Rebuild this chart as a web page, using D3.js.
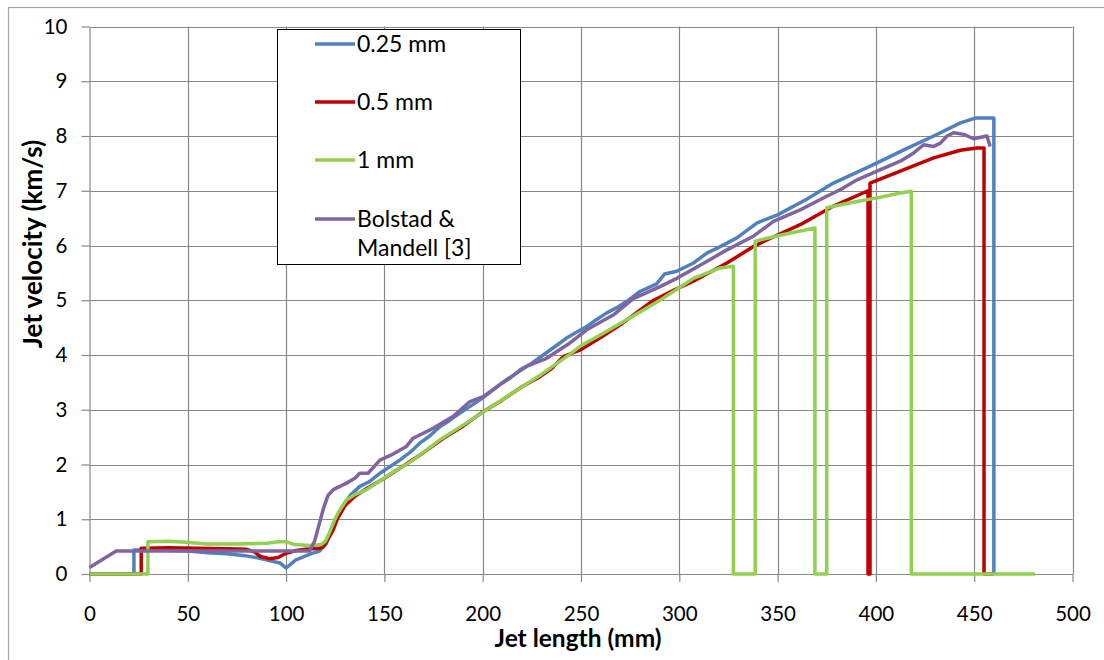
<!DOCTYPE html>
<html>
<head>
<meta charset="utf-8">
<script src="https://cdn.jsdelivr.net/npm/d3@7"></script>
<style>
  html, body { margin: 0; padding: 0; background: #fff; }
  svg { display: block; }
  text { font-family: Lato, "Open Sans", "Liberation Sans", sans-serif; fill: #000; }
</style>
</head>
<body>
<svg id="chart" width="1104" height="660"></svg>
<script>
// Jet velocity (km/s) against jet length (mm), sampled along each profile as [length, velocity]
const mesh025 = [[0,0],[22.6,0],[22.6,0.44],[35,0.44],[50,0.42],[60,0.39],[70,0.37],[78,0.34],[85,0.30],[92,0.24],[97,0.2],[100,0.11],[103,0.2],[105,0.26],[110,0.33],[113.6,0.38],[117,0.42],[120.5,0.56],[123.8,0.87],[125,1.0],[128.9,1.25],[133,1.45],[137.5,1.6],[142,1.68],[147.7,1.84],[152,1.94],[157.8,2.08],[163,2.22],[168,2.39],[173,2.52],[178.2,2.69],[183,2.8],[188.4,2.94],[193,3.05],[198.6,3.18],[203,3.3],[208.8,3.46],[214,3.58],[219,3.73],[225,3.85],[230.8,4.0],[237,4.16],[242.7,4.31],[247,4.4],[252.9,4.52],[258,4.65],[263.1,4.77],[268,4.86],[273.3,4.98],[280,5.16],[288.5,5.3],[292.5,5.48],[298.7,5.53],[307.2,5.68],[314,5.86],[320.8,5.98],[329.3,6.14],[339.4,6.41],[350,6.56],[365,6.85],[378.4,7.14],[390,7.33],[400.6,7.51],[415,7.76],[429.4,8.0],[443,8.24],[451,8.33],[460,8.33],[460,0]];

const mesh05 = [[0,0],[26.3,0],[26.3,0.47],[40,0.48],[55,0.47],[70,0.46],[80,0.45],[84,0.4],[87,0.32],[91.6,0.28],[96,0.3],[100,0.38],[105,0.43],[110,0.45],[117,0.47],[119,0.5],[121,0.62],[123.9,0.8],[126,1.0],[130,1.25],[135,1.42],[141,1.56],[150,1.75],[160,1.98],[170,2.22],[180,2.48],[190,2.7],[200,2.96],[210,3.18],[220,3.42],[229,3.6],[235,3.75],[241,3.97],[250,4.1],[260,4.32],[270,4.55],[280,4.82],[287,5.0],[297,5.18],[307.2,5.35],[316,5.52],[324.2,5.68],[337.7,5.98],[344.5,6.1],[361.5,6.38],[378.4,6.72],[396,7.0],[396,0],[397,0],[397,7.14],[412.4,7.36],[429.4,7.6],[443,7.74],[451.4,7.78],[455,7.78],[455,0],[460,0]];

const mesh1 = [[0,0],[29.7,0],[29.7,0.59],[40,0.6],[49,0.58],[60,0.55],[75,0.55],[90,0.56],[96,0.59],[100,0.59],[104,0.54],[112,0.52],[118,0.54],[120,0.6],[122,0.75],[124.7,0.99],[127,1.15],[130.7,1.35],[135,1.45],[140.9,1.54],[151,1.78],[164.6,2.08],[178.2,2.45],[191.8,2.76],[202,3.0],[215,3.3],[230,3.65],[245,4.03],[249.5,4.16],[260,4.37],[275,4.68],[290.2,5.0],[307.2,5.4],[320.8,5.59],[327.5,5.62],[327.5,0],[338.6,0],[338.6,6.08],[353,6.2],[369,6.32],[369,0],[375,0],[375,6.69],[387,6.78],[400.6,6.87],[412.4,6.96],[418,6.99],[418,0],[481,0]];

const bolstadMandell = [[0,0.12],[13.6,0.42],[112,0.42],[114.5,0.6],[117,0.93],[119,1.2],[121.4,1.44],[124,1.54],[130.7,1.66],[135,1.75],[137.5,1.84],[141.7,1.84],[147.7,2.08],[154.4,2.19],[161.2,2.33],[164.6,2.48],[174.8,2.66],[185,2.88],[193.5,3.15],[200.3,3.24],[212.2,3.55],[222.3,3.79],[232.5,3.94],[244.4,4.22],[252.9,4.46],[266.4,4.73],[276.6,5.03],[290.2,5.25],[298.7,5.4],[310.6,5.64],[324.2,5.92],[337.7,6.17],[344.5,6.35],[347.9,6.44],[361.5,6.65],[375,6.9],[381.9,7.02],[390.4,7.2],[400.6,7.36],[412.4,7.54],[419.2,7.69],[424.3,7.84],[429.4,7.81],[432.8,7.87],[436.2,8.0],[439.6,8.06],[444.7,8.03],[449.7,7.95],[456.5,8.0],[458.1,7.81]];

const seriesNames = ["0.25 mm", "0.5 mm", "1 mm", "Bolstad & Mandell [3]"];
const seriesColors = ["#4f81bd", "#c00000", "#92d050", "#8064a2"];
const xTickValues = [0, 50, 100, 150, 200, 250, 300, 350, 400, 450, 500];
const yTickValues = [0, 1, 2, 3, 4, 5, 6, 7, 8, 9, 10];
const xTitle = "Jet length (mm)";
const yTitle = "Jet velocity  (km/s)";

const seriesData = [mesh025, mesh05, mesh1, bolstadMandell];

const svg = d3.select("#chart");
const plot = { left: 89.5, right: 1072.5, top: 26.5, bottom: 574 };
const gridColor = "#888888";

// outer chart frame
svg.append("rect")
  .attr("x", 8.5).attr("y", 7.5)
  .attr("width", 1200).attr("height", 800)
  .attr("fill", "none").attr("stroke", "#a6a6a6").attr("stroke-width", 1.2);

const x = d3.scaleLinear().domain([0, 500]).range([plot.left, plot.right]);
const y = d3.scaleLinear().domain([0, 10]).range([plot.bottom, plot.top]);

// gridlines
const grid = svg.append("g");
grid.selectAll("line.h").data(yTickValues.slice(1)).join("line")
  .attr("x1", plot.left).attr("x2", plot.right)
  .attr("y1", d => Math.round(y(d)) + 0.5).attr("y2", d => Math.round(y(d)) + 0.5)
  .attr("stroke", gridColor).attr("stroke-width", 1.2);
grid.selectAll("line.v").data(xTickValues.slice(1)).join("line")
  .attr("y1", plot.top).attr("y2", plot.bottom)
  .attr("x1", d => Math.round(x(d)) + 0.5).attr("x2", d => Math.round(x(d)) + 0.5)
  .attr("stroke", gridColor).attr("stroke-width", 1.2);

// axes
const xAxis = d3.axisBottom(x).tickValues(xTickValues).tickSize(8).tickPadding(24).tickSizeOuter(0);
const yAxis = d3.axisLeft(y).tickValues(yTickValues).tickSize(8).tickPadding(14).tickSizeOuter(0);

const gx = svg.append("g").attr("transform", `translate(0,${plot.bottom})`).call(xAxis);
const gy = svg.append("g").attr("transform", `translate(${plot.left},0)`).call(yAxis);
[gx, gy].forEach(g => {
  g.select(".domain").attr("stroke", gridColor).attr("stroke-width", 1.2);
  g.selectAll(".tick line").attr("stroke", gridColor).attr("stroke-width", 1.2);
  g.selectAll(".tick text").attr("font-size", 20.5).attr("fill", "#111")
    .style("font-family", "Lato, 'Open Sans', sans-serif");
});

// axis titles
svg.append("text")
  .attr("x", 578).attr("y", 647)
  .attr("text-anchor", "middle").attr("font-size", 24.5).attr("font-weight", "bold")
  .text(xTitle);
svg.append("text")
  .attr("transform", `translate(42,244) rotate(-90)`)
  .attr("text-anchor", "middle").attr("font-size", 26).attr("font-weight", "bold")
  .text(yTitle);

// series lines
svg.append("clipPath").attr("id", "plotClip").append("rect")
  .attr("x", plot.left - 2).attr("y", plot.top - 2)
  .attr("width", plot.right - plot.left + 4).attr("height", plot.bottom - plot.top + 4);

const line = d3.line().x(d => x(d[0])).y(d => y(d[1]));
svg.append("g").attr("clip-path", "url(#plotClip)")
  .selectAll("path").data(seriesData).join("path")
  .attr("d", line)
  .attr("fill", "none")
  .attr("stroke", (d, i) => seriesColors[i])
  .attr("stroke-width", 3.5)
  .attr("stroke-linejoin", "round")
  .attr("stroke-linecap", "butt");

// legend
const legend = svg.append("g");
legend.append("rect")
  .attr("x", 277.5).attr("y", 29.5).attr("width", 243).attr("height", 235)
  .attr("fill", "#fff").attr("stroke", "#000").attr("stroke-width", 1);
const rowY = [44, 102, 160, 219];
seriesNames.forEach((name, i) => {
  legend.append("line")
    .attr("x1", 315).attr("x2", 355).attr("y1", rowY[i]).attr("y2", rowY[i])
    .attr("stroke", seriesColors[i]).attr("stroke-width", 3.5);
  const words = name === "Bolstad & Mandell [3]" ? ["Bolstad &", "Mandell [3]"] : [name];
  words.forEach((w, j) => {
    legend.append("text")
      .attr("x", 357).attr("y", rowY[i] + j * 29).attr("dy", "0.36em")
      .attr("font-size", 23).text(w);
  });
});
</script>
</body>
</html>
